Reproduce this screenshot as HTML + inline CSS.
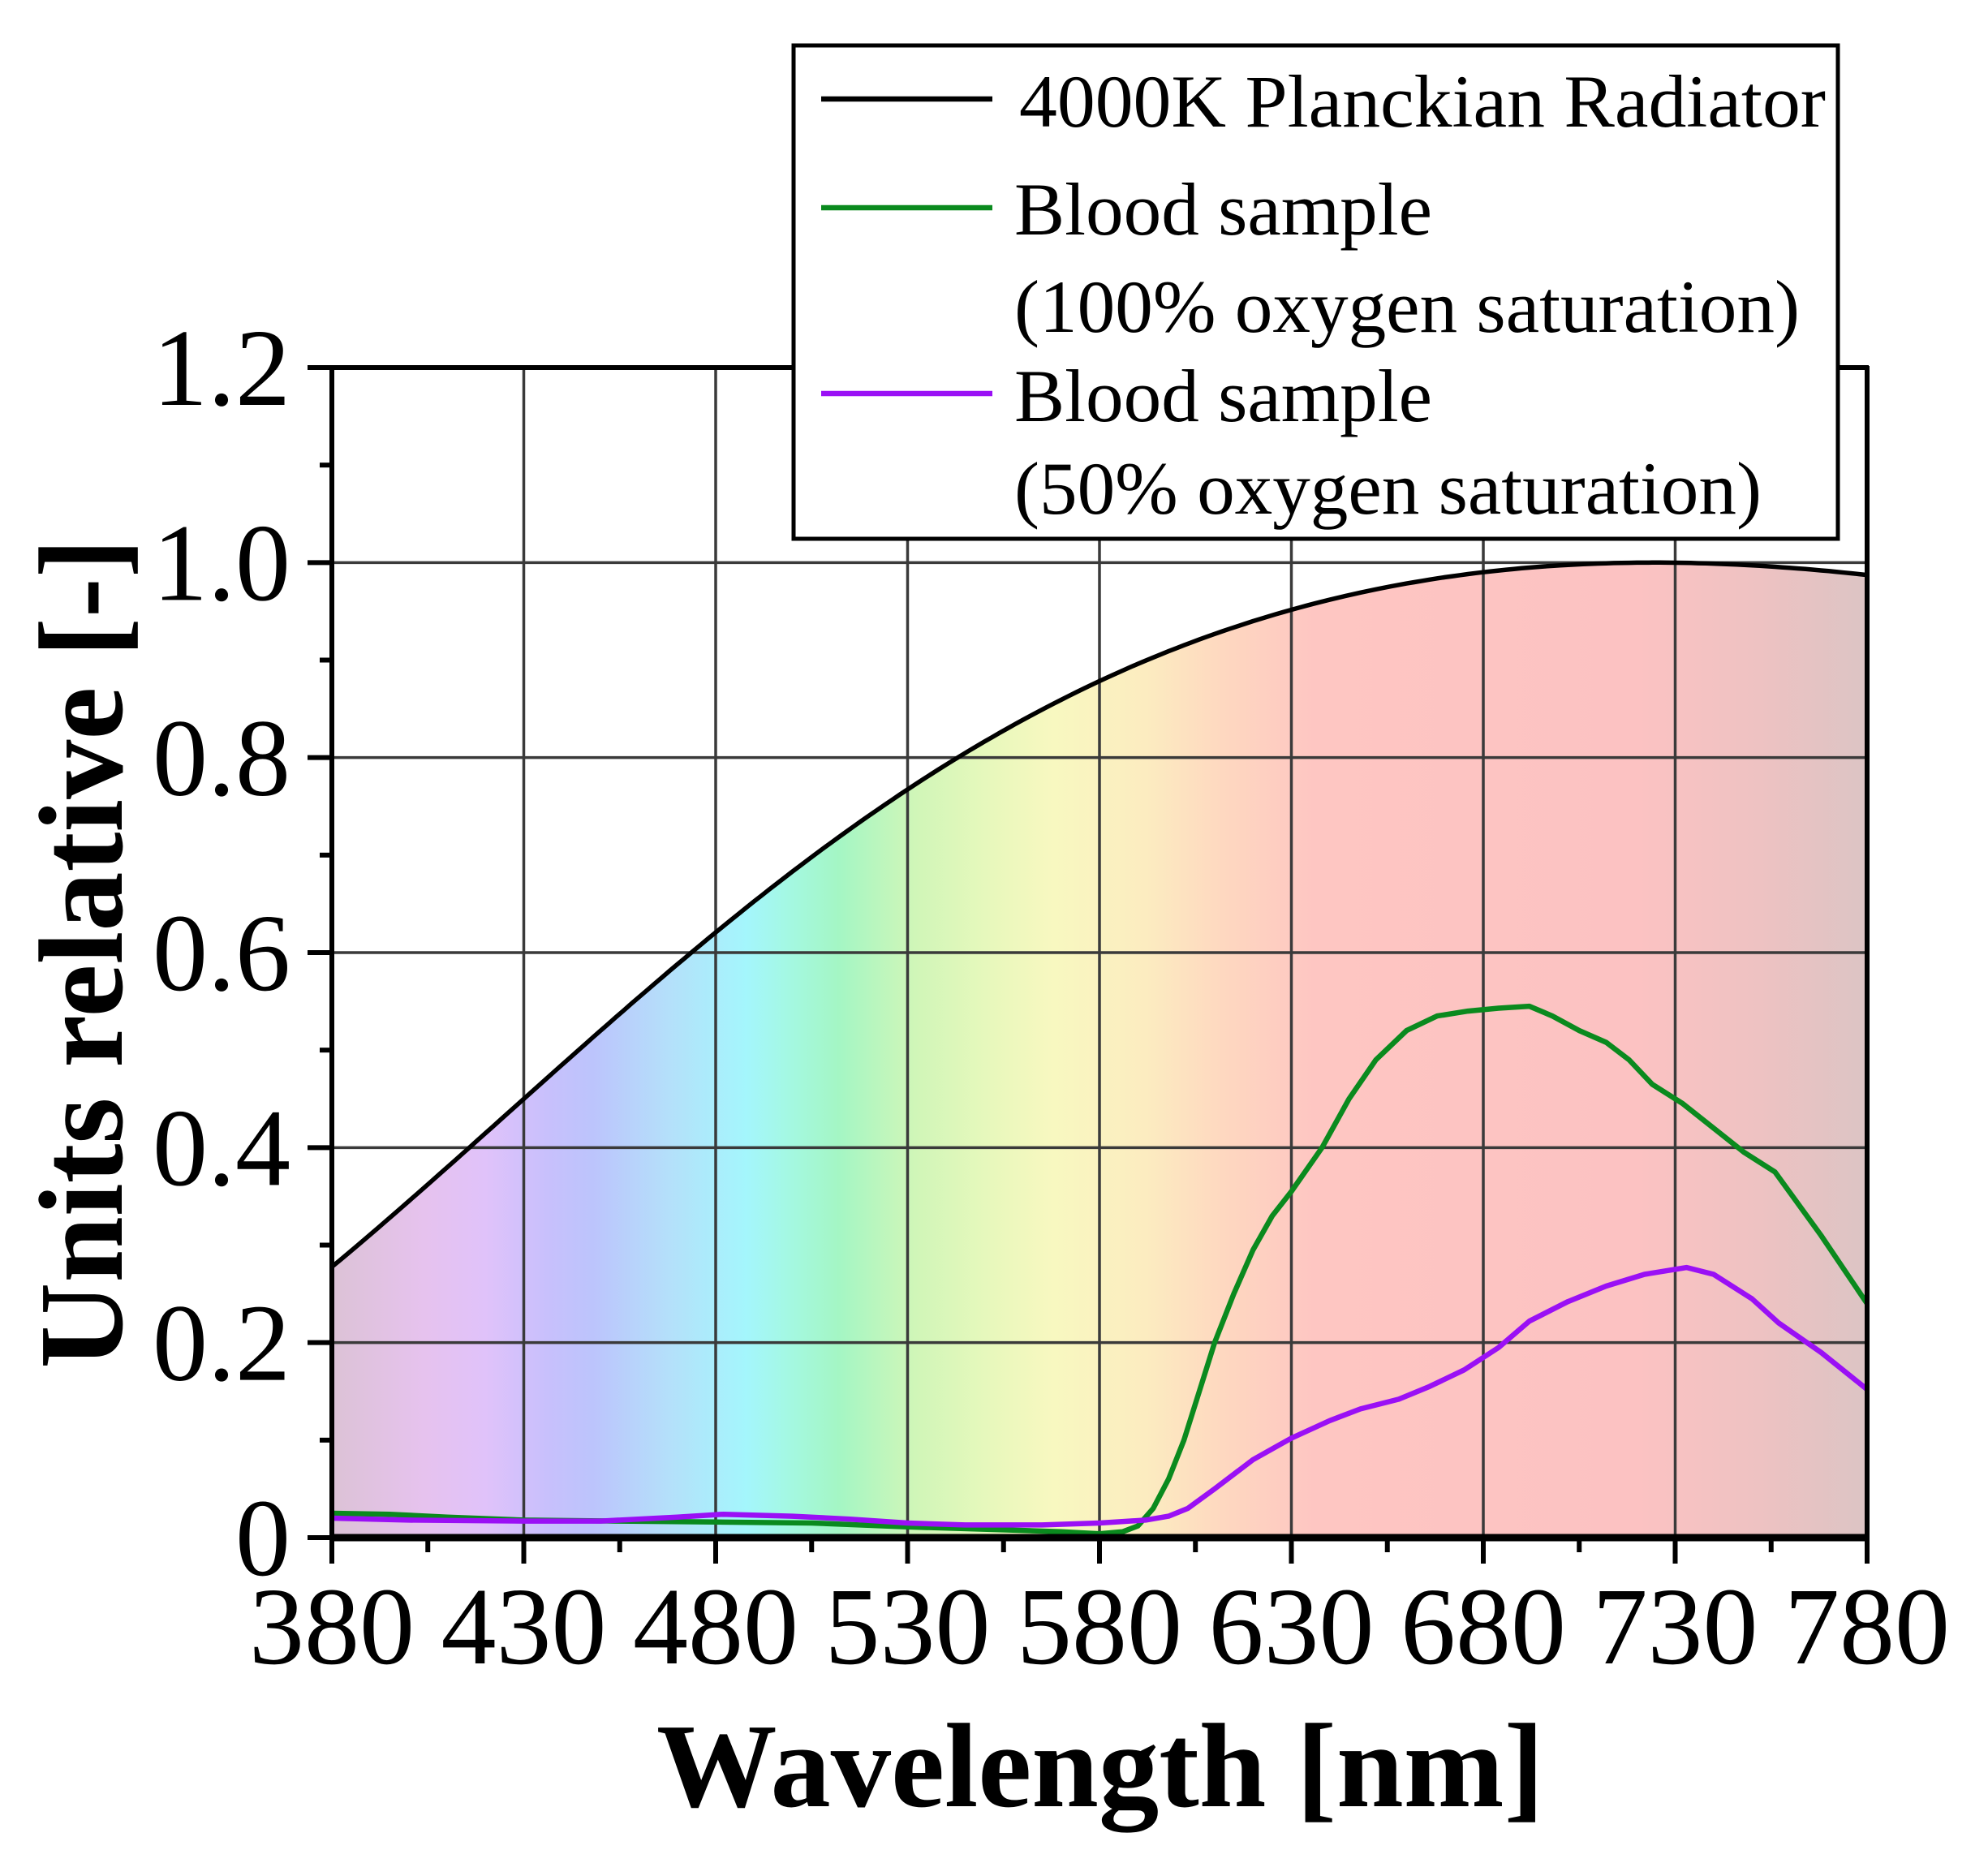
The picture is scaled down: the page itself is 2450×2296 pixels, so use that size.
<!DOCTYPE html>
<html><head><meta charset="utf-8"><style>
html,body{margin:0;padding:0;background:#fff}
svg{display:block}
text{font-family:"Liberation Serif",serif;fill:#000}
</style></head><body>
<svg id="s" width="2450" height="2296" viewBox="0 0 2450 2296" xmlns="http://www.w3.org/2000/svg">
<defs>
<linearGradient id="sp" x1="409" x2="2301" y1="0" y2="0" gradientUnits="userSpaceOnUse">
<stop offset="0" stop-color="#dcc2d6"/>
<stop offset="0.06" stop-color="#e6c2ee"/>
<stop offset="0.1" stop-color="#e0c2fa"/>
<stop offset="0.14" stop-color="#c8c0fc"/>
<stop offset="0.17" stop-color="#bcc4fc"/>
<stop offset="0.22" stop-color="#b4e0fa"/>
<stop offset="0.27" stop-color="#a4f6fc"/>
<stop offset="0.3" stop-color="#a4f8e0"/>
<stop offset="0.33" stop-color="#a4f6c4"/>
<stop offset="0.38" stop-color="#d0f6b8"/>
<stop offset="0.43" stop-color="#e8f8bc"/>
<stop offset="0.47" stop-color="#f8f8c0"/>
<stop offset="0.53" stop-color="#fcecc0"/>
<stop offset="0.58" stop-color="#fed8c0"/>
<stop offset="0.64" stop-color="#fec6c2"/>
<stop offset="0.85" stop-color="#fcc2c2"/>
<stop offset="0.93" stop-color="#eec2c2"/>
<stop offset="1" stop-color="#dcc4c4"/>
</linearGradient>
</defs>
<path id="fill" fill="url(#sp)" d=""/>
<g id="grid" stroke="#3a3a3a" stroke-width="3.5"></g>
<polyline id="green" fill="none" stroke="#0a8a1e" stroke-width="6.5" stroke-linejoin="round"/>
<polyline id="purple" fill="none" stroke="#9a10f5" stroke-width="6.5" stroke-linejoin="round"/>
<path id="planck" fill="none" stroke="#000" stroke-width="5.5"/>
<g id="axes" stroke="#000"></g>
<g id="lbl" font-size="136"></g>
<text x="1356" y="2226" font-size="148" font-weight="bold" text-anchor="middle" textLength="1094" lengthAdjust="spacingAndGlyphs">Wavelength [nm]</text>
<text transform="translate(150,1175) rotate(-90)" font-size="148" font-weight="bold" text-anchor="middle" textLength="1023" lengthAdjust="spacingAndGlyphs">Units relative [-]</text>
<rect x="978" y="56" width="1287" height="608" fill="#fff" stroke="#000" stroke-width="5"/>
<line x1="1012" y1="122" x2="1223" y2="122" stroke="#000" stroke-width="6.5"/>
<line x1="1012" y1="256" x2="1223" y2="256" stroke="#0a8a1e" stroke-width="6.5"/>
<line x1="1012" y1="485" x2="1223" y2="485" stroke="#9a10f5" stroke-width="6.5"/>
<g font-size="92">
<text x="1256" y="156" textLength="994" lengthAdjust="spacingAndGlyphs">4000K Planckian Radiator</text>
<text x="1250" y="289" textLength="515" lengthAdjust="spacingAndGlyphs">Blood sample</text>
<text x="1250" y="409" textLength="968" lengthAdjust="spacingAndGlyphs">(100% oxygen saturation)</text>
<text x="1250" y="519" textLength="515" lengthAdjust="spacingAndGlyphs">Blood sample</text>
<text x="1250" y="633" textLength="921" lengthAdjust="spacingAndGlyphs">(50% oxygen saturation)</text>
</g>
</svg>
<script>
(function(){
var L=409,R=2301,T=453,B=1895;
function X(n){return L+(n-380)/400*(R-L);}
function Y(v){return B-v/1.2*(B-T);}
var NS="http://www.w3.org/2000/svg";
function el(p,t,a){var e=document.createElementNS(NS,t);for(var k in a)e.setAttribute(k,a[k]);p.appendChild(e);return e;}
function pl(n){var x=1.4388e7/(n*4000);return Math.pow(n,-5)/(Math.exp(x)-1);}
var mx=pl(724.5);
var pts=[];for(var n=380;n<=780;n+=2)pts.push(X(n).toFixed(1)+","+Y(pl(n)/mx).toFixed(1));
document.getElementById("planck").setAttribute("d","M"+pts.join(" L"));
document.getElementById("fill").setAttribute("d","M"+X(380)+","+B+" L"+pts.join(" L")+" L"+X(780)+","+B+" Z");
var g=document.getElementById("grid");
for(var n=430;n<780;n+=50)el(g,"line",{x1:X(n),x2:X(n),y1:T,y2:B});
for(var v=0.2;v<1.21;v+=0.2)el(g,"line",{x1:L,x2:R,y1:Y(v),y2:Y(v)});
var G=[[380,.025],[395,.024],[410,.021],[430,.018],[455,.017],[480,.016],[505,.015],[530,.011],[555,.008],[570,.006],[580,.004],[586,.006],[590,.012],[594,.03],[598,.06],[602,.1],[606,.15],[610,.2],[615,.25],[620,.295],[625,.33],[630,.355],[638,.4],[645,.45],[652,.49],[660,.52],[668,.535],[676,.54],[684,.543],[692,.545],[698,.535],[705,.52],[712,.508],[718,.49],[724,.465],[732,.445],[740,.42],[748,.395],[756,.375],[768,.31],[780,.24]];
var P=[[380,.02],[400,.018],[430,.017],[450,.017],[470,.021],[482,.024],[500,.022],[515,.019],[530,.015],[545,.013],[565,.013],[580,.015],[592,.018],[598,.022],[603,.03],[610,.05],[620,.08],[630,.102],[640,.12],[648,.132],[658,.142],[666,.155],[675,.172],[684,.195],[692,.222],[702,.242],[712,.258],[722,.27],[733,.277],[740,.27],[750,.245],[757,.22],[768,.19],[780,.152]];
function ser(a){return a.map(function(p){return X(p[0]).toFixed(1)+","+Y(p[1]).toFixed(1)}).join(" ");}
document.getElementById("green").setAttribute("points",ser(G));
document.getElementById("purple").setAttribute("points",ser(P));
var ax=document.getElementById("axes");
el(ax,"line",{x1:L-2,x2:R+3,y1:B,y2:B,"stroke-width":9});
el(ax,"line",{x1:L,x2:L,y1:T-2,y2:B,"stroke-width":6});
el(ax,"line",{x1:L-30,x2:R+2,y1:T,y2:T,"stroke-width":6});
el(ax,"line",{x1:R,x2:R,y1:T-2,y2:B,"stroke-width":6});
for(var n=380;n<=780;n+=25){var maj=(n-380)%50==0;el(ax,"line",{x1:X(n),x2:X(n),y1:B,y2:B+(maj?32:18),"stroke-width":6});}
for(var i=0;i<=12;i++){var v=i*0.1,maj=i%2==0;el(ax,"line",{x1:L-(maj?30:15),x2:L,y1:Y(v),y2:Y(v),"stroke-width":6});}
var lb=document.getElementById("lbl");
for(var n=380;n<=780;n+=50){var t=el(lb,"text",{x:X(n),y:2050,"text-anchor":"middle"});t.textContent=n;}
var ys=["0","0.2","0.4","0.6","0.8","1.0","1.2"];
for(var i=0;i<7;i++){var t=el(lb,"text",{x:358,y:Y(i*0.2)+46,"text-anchor":"end"});t.textContent=ys[i];}
})();
</script>
</body></html>
